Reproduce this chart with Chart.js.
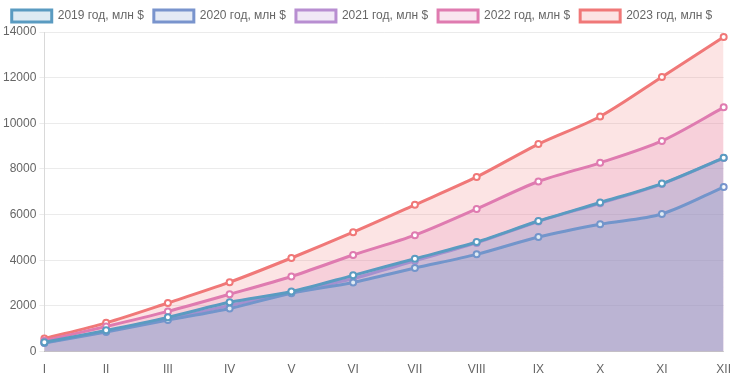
<!DOCTYPE html>
<html><head><meta charset="utf-8">
<script src="https://cdn.jsdelivr.net/npm/chart.js@4/dist/chart.umd.min.js"></script>
<style>html,body{margin:0;padding:0;background:#fff}#wrap{width:734px;height:380px}</style>
</head><body><div id="wrap"><canvas id="c" width="734" height="380"></canvas></div>
<script>
const categories = ['I','II','III','IV','V','VI','VII','VIII','IX','X','XI','XII'];
const seriesNames = ['2019 год, млн $','2020 год, млн $','2021 год, млн $','2022 год, млн $','2023 год, млн $'];
const y2019 = [410, 930, 1500, 2160, 2630, 3340, 4070, 4800, 5720, 6530, 7360, 8490];
const y2020 = [380, 860, 1380, 1890, 2560, 3030, 3660, 4260, 5020, 5580, 6030, 7210];
const y2021 = [390, 900, 1420, 2020, 2590, 3200, 3980, 4760, 5700, 6500, 7340, 8480];
const y2022 = [480, 1100, 1760, 2510, 3290, 4230, 5100, 6250, 7450, 8270, 9230, 10700];
const y2023 = [570, 1260, 2130, 3040, 4100, 5230, 6430, 7650, 9090, 10300, 12030, 13780];
const colors = ['rgb(90,155,193)','rgb(121,148,205)','rgb(184,142,209)','rgb(223,123,176)','rgb(240,120,120)'];
const yTicks = [0,2000,4000,6000,8000,10000,12000,14000];

const allSeries = [y2019,y2020,y2021,y2022,y2023];
const alpha = c => c.replace('rgb','rgba').replace(')',',0.2)');
new Chart(document.getElementById('c'), {
  type: 'line',
  data: {
    labels: categories,
    datasets: allSeries.map((d,i)=>({
      label: seriesNames[i],
      data: d,
      borderColor: colors[i],
      backgroundColor: alpha(colors[i]),
      fill: 'origin',
      borderWidth: 3,
      tension: 0.3,
      pointRadius: 3,
      pointBorderWidth: 2,
      pointBackgroundColor: '#fff',
      pointBorderColor: colors[i]
    }))
  },
  options: {
    responsive: false,
    animation: false,
    layout: {padding: {right: 10}},
    plugins: {
      legend: {labels: {boxWidth: 40, boxHeight: 12, color: '#666', font: {family: 'Liberation Sans, Arial', size: 12}, padding: 10}},
      tooltip: {enabled: false}
    },
    scales: {
      x: {grid: {display: false}, border: {display: true, color: 'rgba(0,0,0,0.15)'}, ticks: {color: '#666', font: {family: 'Liberation Sans, Arial', size: 12}}},
      y: {min: 0, max: 14000, afterBuildTicks: ax => { ax.ticks = yTicks.map(v=>({value:v})); },
          grid: {color: 'rgba(0,0,0,0.08)', tickLength: 5}, border: {display: true, color: 'rgba(0,0,0,0.15)'},
          ticks: {color: '#666', font: {family: 'Liberation Sans, Arial', size: 12}, callback: v => String(v)}}
    }
  }
});
</script></body></html>
